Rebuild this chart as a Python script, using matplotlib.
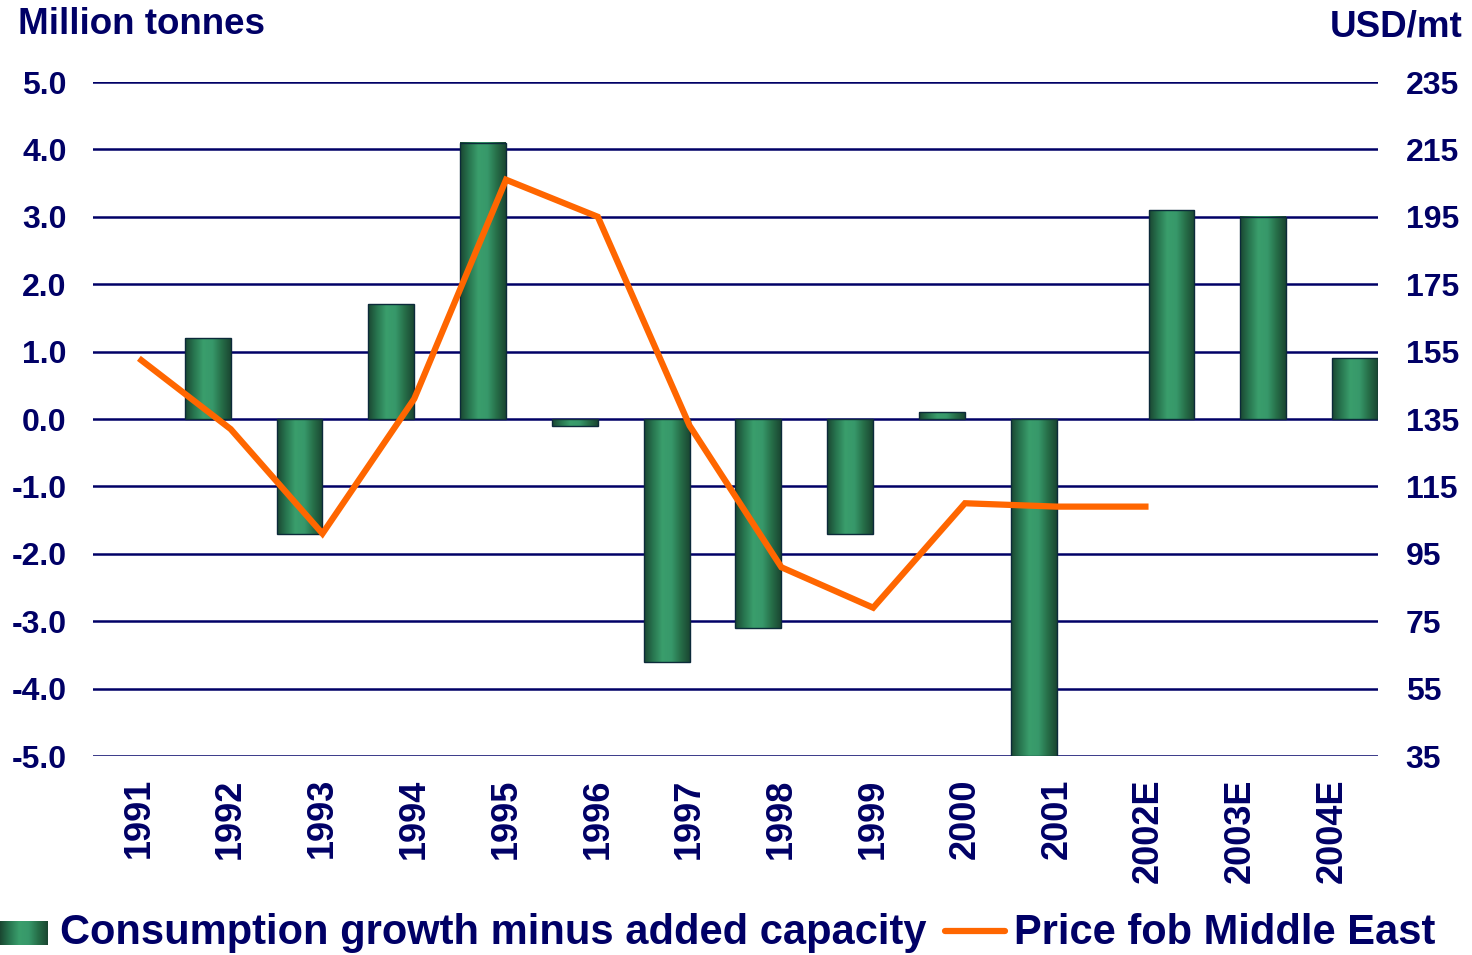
import matplotlib
matplotlib.use("Agg")
import matplotlib.pyplot as plt
import numpy as np
from matplotlib.colors import LinearSegmentedColormap
from matplotlib.lines import Line2D
from matplotlib.patches import Rectangle

years = ["1991", "1992", "1993", "1994", "1995", "1996", "1997", "1998",
         "1999", "2000", "2001", "2002E", "2003E", "2004E"]
balance = [0.0, 1.2, -1.7, 1.7, 4.1, -0.1, -3.6, -3.1, -1.7, 0.1, -5.0, 3.1, 3.0, 0.9]
price = [153, 132, 101, 141, 206, 195, 133, 91, 79, 110, 109, 109]

NAVY = "#000066"
ORANGE = "#ff6600"
plt.rcParams['font.family'] = ['Liberation Sans', 'DejaVu Sans']

fig = plt.figure(figsize=(14.72, 9.55), dpi=100)
ax = fig.add_axes([93/1472, 1 - 756/955, (1378-93)/1472, (756-82)/955])
ax2 = ax.twinx()

n = len(years)
x = np.arange(n)

cmap = LinearSegmentedColormap.from_list(
    "cyl", ["#1a4631", "#287650", "#3a9e6c", "#37986a", "#266e48", "#1a4631"])
grad = np.linspace(0, 1, 256).reshape(1, -1)
bw = 0.5
for xi, yr, v in zip(x, years, balance):
    if v == 0:
        continue
    # actual years sit left of the tick, estimates right of it (as in the source chart)
    left = xi if yr.endswith("E") else xi - bw
    y0, y1 = min(0, v), max(0, v)
    ax.imshow(grad, cmap=cmap, aspect='auto',
              extent=[left, left + bw, y0, y1], zorder=3,
              interpolation='bilinear')
    ax.add_patch(Rectangle((left, y0), bw, y1 - y0, fill=False,
                           edgecolor="#0c2a3a", lw=1.0, zorder=4))
ax.set_xlim(-0.5, n - 0.5)
ax.set_ylim(-5, 5)
ax2.set_ylim(35, 235)

for yv in np.arange(-5, 5.01, 1):
    ax.axhline(yv, color=NAVY, lw=1.8, zorder=2)

ax2.plot(x[:len(price)], price, color=ORANGE, lw=4.5, zorder=5,
         solid_joinstyle='miter', solid_capstyle='butt')

for a in (ax, ax2):
    for s in a.spines.values():
        s.set_visible(False)
    a.tick_params(length=0, colors=NAVY)

lt = np.arange(-5, 5.01, 1)
ax.set_yticks(lt)
ax.set_yticklabels([f"{v:.1f}" for v in lt],
                   fontsize=23, fontweight='bold', color=NAVY)
ax.tick_params(axis='y', pad=19)
rt = list(range(35, 236, 20))
ax2.set_yticks(rt)
ax2.set_yticklabels([str(v) for v in rt],
                    fontsize=23, fontweight='bold', color=NAVY)
ax2.tick_params(axis='y', pad=20)
ax.set_xticks(x)
ax.set_xticklabels(years, rotation=90, fontsize=26, fontweight='bold',
                   color=NAVY, va='top')
ax.tick_params(axis='x', pad=16)

fig.text(18/1472, 1 - 25/955, "Million tonnes", fontsize=26.5, fontweight='bold',
         color=NAVY, va='center', ha='left')
fig.text(1462/1472, 1 - 27/955, "USD/mt", fontsize=26.5, fontweight='bold',
         color=NAVY, va='center', ha='right')

# legend
lax = fig.add_axes([0, 0, 1, 1], facecolor='none')
lax.axis('off')
lax.imshow(grad, cmap=cmap, aspect='auto', extent=[0, 48, 945, 921],
           interpolation='bilinear')
lax.text(60, 933, "Consumption growth minus added capacity", fontsize=30,
         fontweight='bold', color=NAVY, va='center', ha='left')
lax.add_line(Line2D([945, 1005], [931, 931], color=ORANGE, lw=4.5,
                    solid_capstyle='round'))
lax.text(1014, 933, "Price fob Middle East", fontsize=30,
         fontweight='bold', color=NAVY, va='center', ha='left')
lax.set_xlim(0, 1472)
lax.set_ylim(955, 0)

fig.savefig("out.png", dpi=100)
